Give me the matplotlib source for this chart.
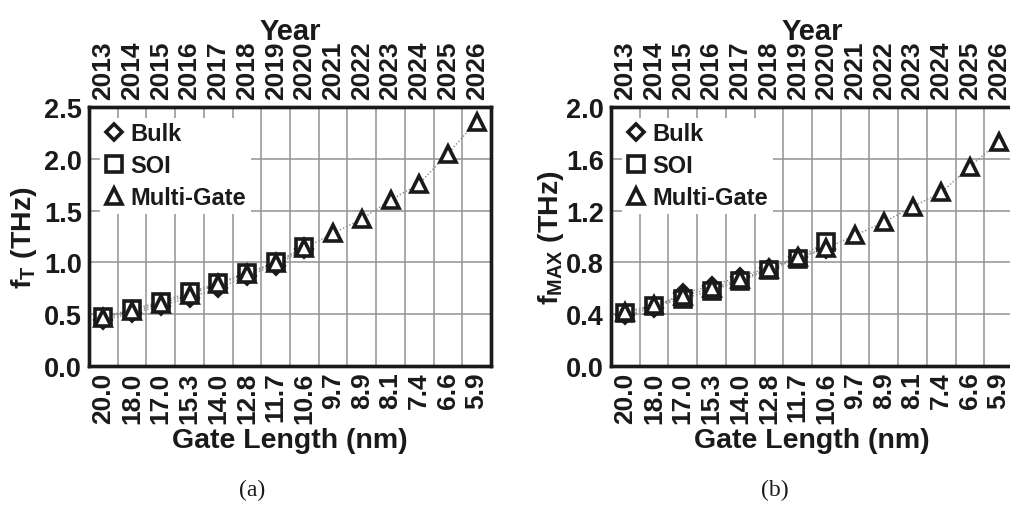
import numpy as np
import matplotlib
matplotlib.use("Agg")
import matplotlib.pyplot as plt
from matplotlib.lines import Line2D

plt.rcParams['font.family'] = ['Liberation Sans', 'DejaVu Sans']
plt.rcParams['font.weight'] = 'bold'
plt.rcParams['mathtext.fontset'] = 'custom'
plt.rcParams['mathtext.rm'] = 'Liberation Sans:bold'
plt.rcParams['mathtext.bf'] = 'Liberation Sans:bold'
plt.rcParams['mathtext.it'] = 'Liberation Sans:bold'

gate_lengths = ['20.0', '18.0', '17.0', '15.3', '14.0', '12.8', '11.7',
                '10.6', '9.7', '8.9', '8.1', '7.4', '6.6', '5.9']
years = [str(y) for y in range(2013, 2027)]

# f_T (THz)
ft_bulk = [0.44, 0.51, 0.58, 0.66, 0.75, 0.87, 0.97, 1.13]
ft_soi = [0.47, 0.55, 0.62, 0.71, 0.80, 0.90, 1.00, 1.15]
ft_mg = [0.46, 0.53, 0.60, 0.69, 0.79, 0.89, 0.99, 1.14, 1.28, 1.42,
         1.60, 1.76, 2.05, 2.36]

# f_MAX (THz)
fmax_bulk = [0.39, 0.45, 0.56, 0.62, 0.69, 0.76, 0.84, 0.90]
fmax_soi = [0.41, 0.46, 0.52, 0.58, 0.66, 0.74, 0.83, 0.96]
fmax_mg = [0.42, 0.47, 0.54, 0.60, 0.67, 0.75, 0.84, 0.91, 1.01, 1.11,
           1.23, 1.34, 1.54, 1.73]

W, H = 1010, 506
fig = plt.figure(figsize=(W / 100, H / 100), dpi=100)

ax_w = 402 / W
ax_b = 1 - 367 / H
ax_h = (367 - 108) / H

TXT = '#1a1a1a'
GRID = '#929292'


def make_panel(left, bulk, soi, mg, ylim, yticks, ylabel, caption, capx, ylabelpad):
    ax = fig.add_axes([left / W, ax_b, ax_w, ax_h])
    n = len(gate_lengths)
    x = np.arange(n)
    ax.set_xlim(-0.5, n - 0.5)
    ax.set_ylim(*ylim)
    ax.set_yticks(yticks)
    ax.set_yticklabels([f'{v:.1f}' for v in yticks], fontsize=19.5,
                       fontweight='bold', color=TXT)
    ax.set_xticks(x)
    ax.set_xticklabels(gate_lengths, rotation=90, fontsize=19,
                       fontweight='bold', color=TXT)
    ax.set_xticks(np.arange(0.5, n - 1), minor=True)
    ax.grid(which='minor', axis='x', color=GRID, lw=1.1)
    ax.grid(which='major', axis='y', color=GRID, lw=1.1)
    ax.set_axisbelow(True)
    ax.tick_params(which='both', length=0)
    ax.tick_params(axis='x', pad=4)
    ax.tick_params(axis='y', pad=5)
    for s in ax.spines.values():
        s.set_linewidth(2.4)
        s.set_color('#1a1a1a')

    line_kw = dict(ls=(0, (1, 1.5)), color='#888888', lw=1.0, zorder=2)
    mk_kw = dict(ls='none', mfc='white', mec='#1a1a1a', mew=2.6, zorder=3)
    xb = x[:len(bulk)]
    ax.plot(xb, bulk, **line_kw)
    ax.plot(xb, soi, **line_kw)
    ax.plot(x[:len(mg)], mg, **line_kw)
    ax.plot(xb, bulk, marker='D', ms=8.5, **mk_kw)
    ax.plot(xb, soi, marker='s', ms=11, **mk_kw)
    ax.plot(x[:len(mg)], mg, marker='^', ms=11.5, **mk_kw)

    ax.set_xlabel('Gate Length (nm)', fontsize=20.5, fontweight='bold',
                  color=TXT, labelpad=3)
    ax.set_ylabel(ylabel, fontsize=20.5, fontweight='bold', color=TXT,
                  labelpad=ylabelpad)

    handles = [
        Line2D([], [], marker='D', ms=8, ls='none', mfc='white', mec='#1a1a1a', mew=2.6),
        Line2D([], [], marker='s', ms=11, ls='none', mfc='white', mec='#1a1a1a', mew=2.6),
        Line2D([], [], marker='^', ms=11.5, ls='none', mfc='white', mec='#1a1a1a', mew=2.6),
    ]
    leg = ax.legend(handles, ['Bulk', 'SOI', 'Multi-Gate'], loc='upper left',
                    frameon=True, fancybox=False, framealpha=1.0,
                    edgecolor='none', facecolor='white',
                    prop={'weight': 'bold', 'size': 17},
                    handlelength=0.8, handletextpad=0.3, labelspacing=0.38,
                    borderpad=0.2, borderaxespad=0.45)
    for t in leg.get_texts():
        t.set_color(TXT)

    top = ax.twiny()
    top.set_xlim(ax.get_xlim())
    top.set_xticks(x)
    top.set_xticklabels(years, rotation=90, fontsize=19,
                        fontweight='bold', color=TXT)
    top.tick_params(length=0, pad=6)
    top.set_xlabel('Year', fontsize=21, fontweight='bold', color=TXT,
                   labelpad=1)
    for s in top.spines.values():
        s.set_linewidth(2.4)
        s.set_color('#1a1a1a')

    fig.text(capx / W, 1 - 490 / H, caption, ha='center', va='center',
             fontsize=17, family='Liberation Serif', fontweight='normal',
             color=TXT)
    return ax


make_panel(89, ft_bulk, ft_soi, ft_mg, (0, 2.5),
           [0.0, 0.5, 1.0, 1.5, 2.0, 2.5],
           r'$\mathbf{f}_{\mathbf{T}}$ (THz)', '(a)', 252, 4)
make_panel(611, fmax_bulk, fmax_soi, fmax_mg, (0, 2.0),
           [0.0, 0.4, 0.8, 1.2, 1.6, 2.0],
           r'$\mathbf{f}_{\mathbf{MAX}}$ (THz)', '(b)', 775, 0)

fig.savefig('out.png', dpi=100)
